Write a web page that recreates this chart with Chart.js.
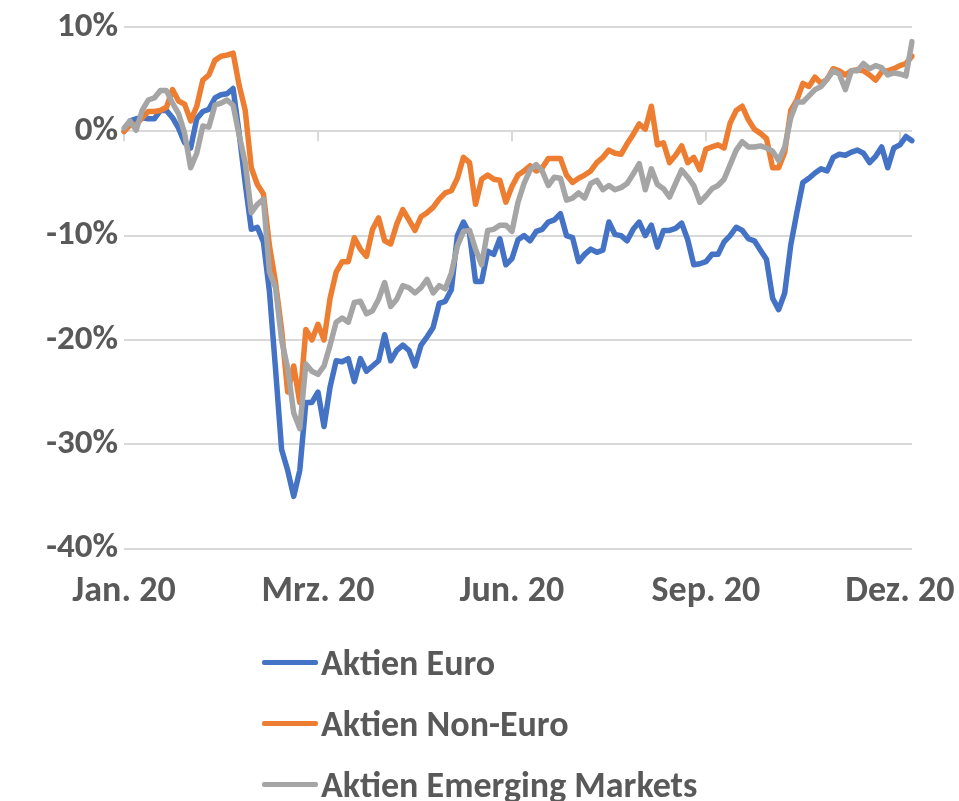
<!DOCTYPE html>
<html>
<head>
<meta charset="utf-8">
<script src="https://cdn.jsdelivr.net/npm/chart.js@4.4.1/dist/chart.umd.min.js"></script>
<style>
    html, body { margin: 0; padding: 0; background: #fff; }
    #wrap { position: relative; width: 959px; height: 801px; }
    #legend { position: absolute; left: 262px; top: 632px; }
    .legend-item { display: flex; align-items: center; height: 61px; font: bold 36px Carlito, Lato, sans-serif; color: #595959; white-space: nowrap; }
    .legend-swatch { width: 56px; height: 5px; border-radius: 2px; margin-right: 3px; }
</style>
</head>
<body>
<div id="wrap">
    <canvas id="perfChart" width="959" height="801"></canvas>
    <div id="legend"></div>
</div>
<script>
// x axis: one point every second trading day, label every 32 points
const tickLabels = ['Jan. 20', 'Mrz. 20', 'Jun. 20', 'Sep. 20', 'Dez. 20'];
const tickEvery = 32;

const seriesNames = ['Aktien Euro', 'Aktien Non-Euro', 'Aktien Emerging Markets'];
const seriesColors = ['#4472C4', '#ED7D31', '#A5A5A5'];

// performance in % since start of year
const euro = [
    0.0, 1.0, 1.2, 1.3, 1.2, 1.2, 2.0, 2.0, 1.3, 0.3,
    -1.1, -1.6, 1.2, 1.9, 2.1, 3.2, 3.5, 3.6, 4.1, -0.2,
    -5.0, -9.4, -9.2, -10.6, -15.4, -22.8, -30.5, -32.5, -35.0, -32.5,
    -26.0, -26.0, -25.0, -28.3, -24.5, -22.0, -22.1, -21.8, -24.0, -21.8,
    -23.0, -22.5, -22.0, -19.5, -22.0, -21.0, -20.5, -21.0, -22.5, -20.5,
    -19.7, -18.8, -16.5, -16.3, -15.2, -10.0, -8.7, -9.8, -14.4, -14.4,
    -11.5, -11.8, -10.3, -12.8, -12.2, -10.4, -10.0, -10.5, -9.6, -9.4,
    -8.7, -8.5, -7.9, -10.0, -10.2, -12.5, -11.8, -11.3, -11.6, -11.4,
    -8.7, -9.9, -10.0, -10.5, -9.4, -8.7, -10.0, -9.0, -11.1, -9.5,
    -9.5, -9.3, -8.8, -10.4, -12.8, -12.7, -12.5, -11.8, -11.8, -10.6,
    -10.0, -9.2, -9.5, -10.3, -10.5, -11.4, -12.3, -16.0, -17.1, -15.5,
    -10.9, -7.8, -4.9, -4.5, -4.0, -3.6, -3.8, -2.5, -2.2, -2.3,
    -2.0, -1.8, -2.1, -3.0, -2.4, -1.5, -3.5, -1.6, -1.3, -0.5,
    -0.9
];
const nonEuro = [
    0.0, 0.6, 0.6, 1.3, 1.9, 1.9, 2.0, 2.3, 4.0, 2.9,
    2.6, 1.0, 2.4, 4.9, 5.4, 6.8, 7.2, 7.3, 7.5, 4.4,
    2.0, -3.5, -5.1, -6.0, -11.0, -14.5, -19.0, -25.0, -22.5, -26.0,
    -19.0, -20.0, -18.5, -20.0, -16.0, -13.5, -12.5, -12.5, -10.2, -11.3,
    -12.0, -9.4, -8.3, -10.5, -10.8, -8.9, -7.5, -8.5, -9.5, -8.2,
    -7.8, -7.3, -6.5, -5.9, -5.7, -4.5, -2.5, -3.0, -7.0, -4.6,
    -4.2, -4.6, -4.7, -6.8, -5.3, -4.2, -3.8, -3.3, -3.8, -3.5,
    -2.6, -2.6, -2.6, -4.2, -4.9, -4.5, -4.2, -3.8, -3.0, -2.5,
    -1.8, -2.1, -2.2, -1.2, -0.3, 0.7, 0.2, 2.4, -1.3, -1.1,
    -3.0, -2.3, -1.4, -3.0, -2.5, -3.7, -1.7, -1.5, -1.3, -1.6,
    0.8, 2.0, 2.4, 1.1, 0.2, -0.2, -0.7, -3.5, -3.5, -2.0,
    2.0, 3.0, 4.6, 4.3, 5.2, 4.6, 5.0, 6.0, 5.8, 5.4,
    5.8, 5.9, 5.8, 5.4, 4.9, 5.7, 5.8, 6.0, 6.3, 6.5,
    7.2
];
const emerging = [
    0.3, 1.0, 0.1, 2.0, 3.0, 3.2, 3.9, 3.9, 2.7, 1.7,
    -0.2, -3.5, -2.1, 0.5, 0.4, 2.5, 2.7, 3.0, 2.5, -0.4,
    -3.0, -7.8, -7.0, -6.5, -13.5, -15.0, -20.0, -22.7, -27.0, -28.5,
    -22.3, -23.0, -23.3, -22.5, -20.5, -18.3, -17.9, -18.3, -16.4, -16.3,
    -17.5, -17.2, -16.1, -14.5, -16.8, -16.1, -14.8, -15.0, -15.5, -15.0,
    -14.2, -15.5, -14.8, -15.1, -13.6, -11.0, -9.6, -9.5, -11.3, -12.8,
    -9.5, -9.4, -9.0, -9.0, -9.6, -6.8, -5.0, -3.7, -3.2, -3.8,
    -5.2, -4.4, -4.5, -6.6, -6.4, -5.9, -6.4, -5.0, -4.7, -5.6,
    -5.2, -5.6, -5.4, -5.0, -4.1, -3.1, -5.6, -3.6, -5.1, -5.5,
    -6.3, -5.0, -3.7, -4.4, -5.2, -6.8, -6.2, -5.5, -5.2, -4.6,
    -3.2, -1.8, -1.0, -1.5, -1.5, -1.4, -1.6, -1.9, -2.8, -1.5,
    1.3, 2.8, 2.8, 3.4, 4.0, 4.3, 5.0, 5.8, 5.5, 4.0,
    5.8, 5.8, 6.5, 6.0, 6.3, 6.1, 5.4, 5.6, 5.5, 5.3,
    8.6
];

const labels = euro.map((_, i) => i);
const FONT = 'Carlito, Lato, sans-serif';
const TEXT = '#595959';
const GRID = '#d9d9d9';

// small tick marks hanging below the 0% line, like the Excel category axis
const zeroAxisTicks = {
    id: 'zeroAxisTicks',
    beforeDatasetsDraw(chart) {
        const { ctx, scales: { x, y } } = chart;
        const y0 = y.getPixelForValue(0);
        ctx.save();
        ctx.strokeStyle = GRID;
        ctx.lineWidth = 2;
        ctx.beginPath();
        for (let i = 0; i < labels.length; i += tickEvery) {
            const px = Math.round(x.getPixelForValue(i));
            ctx.moveTo(px, y0);
            ctx.lineTo(px, y0 + 10);
        }
        ctx.stroke();
        ctx.restore();
    }
};

const series = [euro, nonEuro, emerging];
const chart = new Chart(document.getElementById('perfChart'), {
    type: 'line',
    data: {
        labels: labels,
        datasets: series.map((data, i) => ({
            label: seriesNames[i],
            data: data,
            borderColor: seriesColors[i],
            backgroundColor: seriesColors[i],
            borderWidth: 5.5,
            pointRadius: 0,
            tension: 0,
            borderJoinStyle: 'round',
            borderCapStyle: 'round',
            order: series.length - i // later series on top
        }))
    },
    options: {
        responsive: false,
        animation: false,
        layout: { padding: { top: 23, right: 47, left: 0, bottom: 0 } },
        plugins: { legend: { display: false }, tooltip: { enabled: false } },
        scales: {
            x: {
                type: 'category',
                grid: { display: false, drawTicks: false },
                border: { display: false },
                afterFit: s => { s.height = 252.5; },
                ticks: {
                    autoSkip: false,
                    maxRotation: 0,
                    padding: 22,
                    color: TEXT,
                    font: { family: FONT, size: 36, weight: 'bold' },
                    callback: (val, idx) => idx % tickEvery === 0 ? tickLabels[idx / tickEvery] : ''
                }
            },
            y: {
                min: -40,
                max: 10,
                grid: { color: GRID, lineWidth: 2, drawTicks: false },
                border: { display: false },
                afterFit: s => { s.width = 124; },
                ticks: {
                    stepSize: 10,
                    padding: 6,
                    color: TEXT,
                    font: { family: FONT, size: 35, weight: 'bold' },
                    callback: v => v + '%'
                }
            }
        }
    },
    plugins: [zeroAxisTicks]
});

// vertical legend under the chart
const legendEl = document.getElementById('legend');
chart.data.datasets.forEach(ds => {
    const item = document.createElement('div');
    item.className = 'legend-item';
    const sw = document.createElement('span');
    sw.className = 'legend-swatch';
    sw.style.background = ds.borderColor;
    const txt = document.createElement('span');
    txt.textContent = ds.label;
    item.appendChild(sw);
    item.appendChild(txt);
    legendEl.appendChild(item);
});
</script>
</body>
</html>
